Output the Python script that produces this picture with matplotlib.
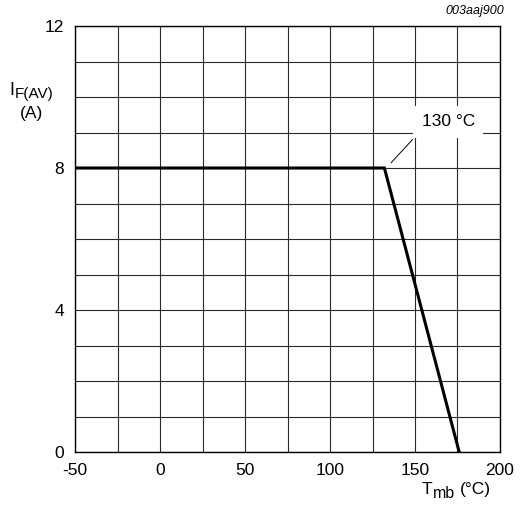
import numpy as np
import matplotlib.pyplot as plt

plt.rcParams['font.family'] = ['Liberation Sans', 'DejaVu Sans']
plt.rcParams['axes.unicode_minus'] = False

# derating curve (Tmb in degC, IF(AV) in A)
tmb = [-50, 132, 176]
i_fav = [8, 8, 0]

x_ticks = [-50, 0, 50, 100, 150, 200]
y_ticks = [0, 4, 8, 12]
x_grid = np.arange(-50, 201, 25)
y_grid = np.arange(0, 13, 1)

W, H = 520, 509
fig = plt.figure(figsize=(W / 100, H / 100), dpi=100)
ax = fig.add_axes([75 / W, 1 - 452 / H, 425 / W, 426 / H])

for gx in x_grid:
    ax.axvline(gx, color='#2a2a2a', linewidth=0.8, zorder=1)
for gy in y_grid:
    ax.axhline(gy, color='#2a2a2a', linewidth=0.8, zorder=1)

ax.plot(tmb, i_fav, color='black', linewidth=2.2, zorder=3, solid_joinstyle='miter')

ax.set_xlim(-50, 200)
ax.set_ylim(0, 12)
ax.set_xticks(x_ticks)
ax.set_yticks(y_ticks)
ax.tick_params(length=0, labelsize=12.5, pad=8)
for s in ax.spines.values():
    s.set_linewidth(1.0)

# knee annotation
ax.plot([136, 148.5], [8.15, 8.8], color='black', linewidth=0.7, zorder=3)
ax.text(169.5, 9.3, '130 °C', fontsize=12.5, ha='center', va='center', zorder=4,
        bbox=dict(facecolor='white', edgecolor='none', pad=6))


def px_text(x, y, s, size, **kw):
    # place text by pixel position (x from left, baseline y from top)
    fig.text(x / W, 1 - y / H, s, fontsize=size, va='baseline', **kw)


# y axis label: I_F(AV) (A)
px_text(9, 95, 'I', 13)
px_text(15, 98, 'F(AV)', 11)
px_text(31.5, 118, '(A)', 12.5, ha='center')

# x axis label: T_mb (°C)
px_text(422, 494, 'T', 12.5)
px_text(432.5, 498, 'mb', 11.5)
px_text(460, 494, '(°C)', 12.5)

fig.text(0.97, 0.978, '003aaj900', fontsize=9, style='italic', ha='right', va='center')

fig.savefig('out.png', dpi=100)
